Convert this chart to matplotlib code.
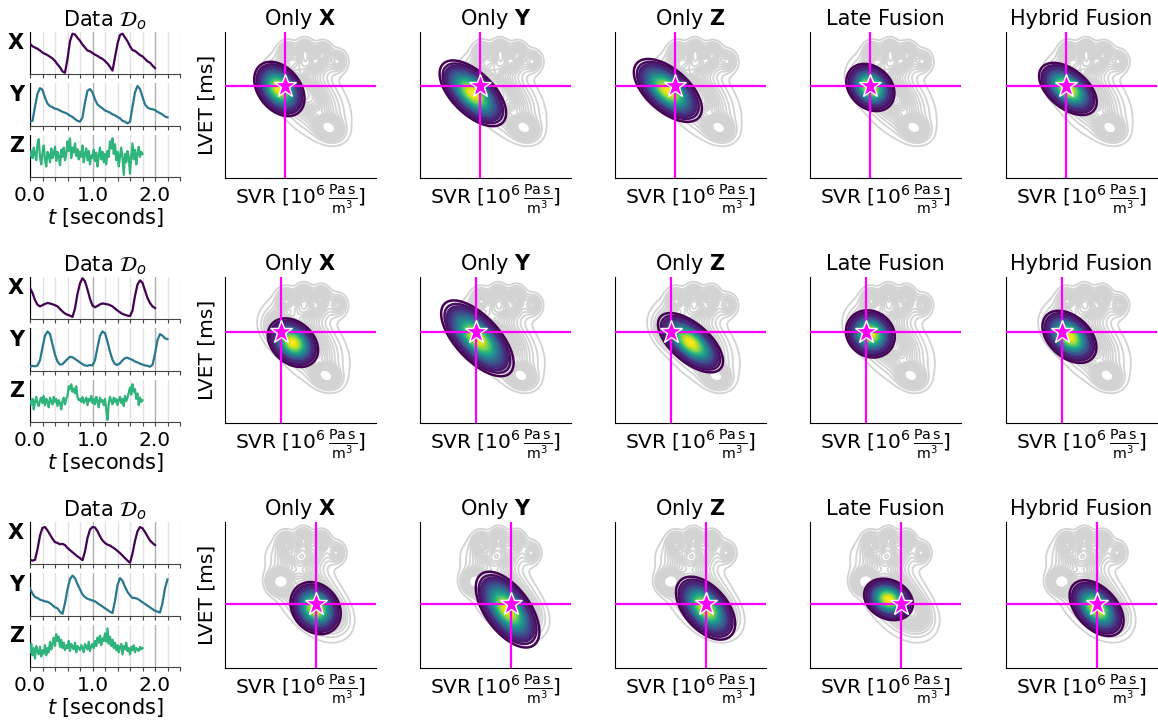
import numpy as np
import matplotlib
matplotlib.use("Agg")
import matplotlib.pyplot as plt
from matplotlib.ticker import MultipleLocator, NullLocator, FormatStrFormatter

plt.rcParams['font.family'] = ['DejaVu Sans']
plt.rcParams['mathtext.fontset'] = 'dejavusans'

# ---------------------------------------------------------------- data
dt_xy = 0.04
dt_z = 0.02

x_sig = [
    [0.72, 0.66, 0.63, 0.60, 0.56, 0.51, 0.48, 0.45, 0.41, 0.37, 0.31, 0.23, 0.16, 0.06, 0.03,
     0.36, 0.78, 0.96, 0.94, 0.86, 0.79, 0.70, 0.63, 0.56, 0.54, 0.50, 0.46, 0.43, 0.39, 0.36,
     0.31, 0.25, 0.17, 0.08, 0.40, 0.72, 0.93, 0.96, 0.87, 0.78, 0.66, 0.57, 0.55, 0.50, 0.45,
     0.42, 0.36, 0.30, 0.27, 0.20, 0.14],
    [0.74, 0.62, 0.45, 0.34, 0.30, 0.33, 0.36, 0.38, 0.37, 0.35, 0.33, 0.30, 0.24, 0.18, 0.13,
     0.10, 0.08, 0.05, 0.25, 0.60, 0.85, 0.97, 0.90, 0.70, 0.48, 0.32, 0.28, 0.31, 0.35, 0.37,
     0.36, 0.35, 0.33, 0.30, 0.25, 0.20, 0.16, 0.12, 0.10, 0.08, 0.07, 0.20, 0.55, 0.82, 0.92,
     0.86, 0.68, 0.50, 0.38, 0.30, 0.26],
    [0.10, 0.08, 0.10, 0.35, 0.68, 0.86, 0.88, 0.80, 0.70, 0.60, 0.52, 0.50, 0.47, 0.48, 0.45,
     0.38, 0.33, 0.28, 0.23, 0.18, 0.14, 0.09, 0.30, 0.62, 0.82, 0.88, 0.87, 0.78, 0.66, 0.56,
     0.50, 0.46, 0.44, 0.40, 0.36, 0.31, 0.26, 0.20, 0.14, 0.08, 0.03, 0.25, 0.55, 0.78, 0.88,
     0.85, 0.76, 0.66, 0.56, 0.50, 0.45],
]

y_sig = [
    [0.10, 0.12, 0.45, 0.75, 0.88, 0.84, 0.66, 0.52, 0.46, 0.44, 0.40, 0.39, 0.36, 0.33, 0.31,
     0.28, 0.24, 0.21, 0.16, 0.12, 0.10, 0.20, 0.55, 0.82, 0.86, 0.78, 0.62, 0.50, 0.45, 0.41,
     0.36, 0.34, 0.31, 0.27, 0.25, 0.21, 0.18, 0.12, 0.10, 0.06, 0.10, 0.45, 0.78, 0.93, 0.86,
     0.68, 0.50, 0.43, 0.40, 0.39, 0.37, 0.33, 0.30, 0.27, 0.22, 0.20],
    [0.10, 0.12, 0.11, 0.13, 0.25, 0.55, 0.82, 0.92, 0.86, 0.62, 0.38, 0.22, 0.15, 0.16, 0.22,
     0.28, 0.33, 0.32, 0.28, 0.24, 0.20, 0.16, 0.13, 0.12, 0.14, 0.13, 0.25, 0.55, 0.82, 0.92,
     0.88, 0.68, 0.45, 0.26, 0.16, 0.14, 0.18, 0.25, 0.30, 0.31, 0.28, 0.26, 0.22, 0.20, 0.17,
     0.15, 0.13, 0.12, 0.10, 0.14, 0.40, 0.72, 0.86, 0.82, 0.76, 0.74],
    [0.64, 0.52, 0.44, 0.42, 0.38, 0.36, 0.34, 0.33, 0.30, 0.25, 0.20, 0.18, 0.10, 0.05, 0.30,
     0.62, 0.86, 0.94, 0.88, 0.74, 0.62, 0.50, 0.44, 0.40, 0.38, 0.36, 0.34, 0.30, 0.26, 0.22,
     0.18, 0.14, 0.10, 0.07, 0.35, 0.72, 0.88, 0.82, 0.68, 0.56, 0.48, 0.42, 0.42, 0.40, 0.36,
     0.32, 0.28, 0.24, 0.20, 0.16, 0.12, 0.10, 0.08, 0.30, 0.65, 0.85],
]

z_sig = [
    [0.50, 0.62, 0.45, 0.70, 0.55, 0.40, 0.78, 0.90, 0.48, 0.30,
     0.58, 0.75, 0.42, 0.25, 0.60, 0.52, 0.35, 0.68, 0.45, 0.55,
     0.72, 0.38, 0.60, 0.50, 0.28, 0.65, 0.48, 0.70, 0.40, 0.55,
     0.85, 0.62, 0.92, 0.45, 0.70, 0.58, 0.80, 0.50, 0.66, 0.42,
     0.60, 0.48, 0.75, 0.35, 0.55, 0.68, 0.40, 0.62, 0.30, 0.52,
     0.45, 0.65, 0.38, 0.58, 0.25, 0.50, 0.70, 0.42, 0.60, 0.35,
     0.55, 0.30, 0.62, 0.48, 0.85, 0.68, 0.92, 0.55, 0.78, 0.40,
     0.60, 0.25, 0.50, 0.70, 0.45, 0.05, 0.55, 0.35, 0.62, 0.48,
     0.08, 0.50, 0.80, 0.42, 0.65, 0.30, 0.55, 0.72, 0.48, 0.60,
     0.55],
    [0.50, 0.42, 0.55, 0.30, 0.48, 0.60, 0.45, 0.38, 0.52, 0.58,
     0.45, 0.62, 0.40, 0.55, 0.48, 0.35, 0.58, 0.50, 0.42, 0.60,
     0.48, 0.55, 0.38, 0.52, 0.45, 0.30, 0.50, 0.58, 0.42, 0.55,
     0.62, 0.85, 0.78, 0.90, 0.72, 0.80, 0.68, 0.85, 0.60, 0.52,
     0.55, 0.48, 0.60, 0.45, 0.52, 0.58, 0.40, 0.55, 0.50, 0.62,
     0.45, 0.55, 0.42, 0.60, 0.50, 0.35, 0.58, 0.48, 0.52, 0.40,
     0.55, 0.30, 0.05, 0.45, 0.60, 0.50, 0.42, 0.58, 0.48, 0.55,
     0.40, 0.52, 0.60, 0.45, 0.55, 0.38, 0.62, 0.50, 0.58, 0.70,
     0.82, 0.65, 0.90, 0.72, 0.78, 0.55, 0.68, 0.40, 0.58, 0.48,
     0.52],
    [0.35, 0.55, 0.28, 0.45, 0.20, 0.50, 0.38, 0.30, 0.48, 0.25,
     0.40, 0.32, 0.52, 0.28, 0.45, 0.35, 0.60, 0.42, 0.55, 0.70,
     0.50, 0.78, 0.62, 0.72, 0.48, 0.65, 0.45, 0.58, 0.40, 0.52,
     0.45, 0.62, 0.38, 0.55, 0.48, 0.42, 0.58, 0.35, 0.50, 0.45,
     0.40, 0.52, 0.45, 0.35, 0.55, 0.48, 0.42, 0.60, 0.38, 0.50,
     0.55, 0.45, 0.62, 0.50, 0.70, 0.58, 0.75, 0.52, 0.68, 0.62,
     0.80, 0.60, 0.92, 0.55, 0.72, 0.50, 0.65, 0.45, 0.58, 0.40,
     0.52, 0.35, 0.48, 0.55, 0.30, 0.50, 0.42, 0.58, 0.38, 0.45,
     0.30, 0.48, 0.40, 0.52, 0.35, 0.45, 0.42, 0.38, 0.48, 0.42,
     0.45],
]

methods = ["Only $\\mathbf{X}$", "Only $\\mathbf{Y}$", "Only $\\mathbf{Z}$",
           "Late Fusion", "Hybrid Fusion"]

# true parameter values (normalised SVR, LVET), one per row
true_svr = [0.40, 0.37, 0.60]
true_lvet = [0.63, 0.62, 0.44]

# population density: mixture components (svr, lvet, sd_svr, sd_lvet, corr, weight)
prior_row1 = [(0.56, 0.55, 0.135, 0.150, -0.45, 0.50),
              (0.40, 0.64, 0.075, 0.075, -0.30, 0.14),
              (0.69, 0.34, 0.050, 0.045, -0.20, 0.09),
              (0.56, 0.79, 0.110, 0.060, 0.00, 0.13),
              (0.41, 0.86, 0.035, 0.045, 0.00, 0.03),
              (0.53, 0.88, 0.035, 0.045, 0.00, 0.03),
              (0.65, 0.86, 0.035, 0.045, 0.00, 0.03),
              (0.75, 0.80, 0.035, 0.045, 0.00, 0.025)]
prior_row2 = [(0.55, 0.55, 0.135, 0.150, -0.45, 0.50),
              (0.38, 0.63, 0.075, 0.075, -0.30, 0.14),
              (0.67, 0.32, 0.050, 0.045, -0.20, 0.09),
              (0.55, 0.79, 0.110, 0.060, 0.00, 0.13),
              (0.40, 0.85, 0.035, 0.045, 0.00, 0.03),
              (0.52, 0.88, 0.035, 0.045, 0.00, 0.03),
              (0.64, 0.87, 0.035, 0.045, 0.00, 0.03),
              (0.75, 0.81, 0.035, 0.045, 0.00, 0.025)]
prior_row3 = [(0.55, 0.52, 0.130, 0.160, -0.50, 0.50),
              (0.36, 0.59, 0.045, 0.045, 0.00, 0.08),
              (0.68, 0.38, 0.080, 0.080, -0.30, 0.12),
              (0.53, 0.78, 0.110, 0.065, 0.00, 0.13),
              (0.40, 0.86, 0.035, 0.045, 0.00, 0.03),
              (0.52, 0.89, 0.035, 0.045, 0.00, 0.03),
              (0.64, 0.87, 0.035, 0.045, 0.00, 0.03),
              (0.74, 0.79, 0.035, 0.045, 0.00, 0.025)]
priors = [prior_row1, prior_row2, prior_row3]

# posterior summaries per row and method
post_svr = [[0.36, 0.35, 0.35, 0.40, 0.41],
            [0.45, 0.38, 0.50, 0.40, 0.42],
            [0.60, 0.58, 0.60, 0.52, 0.60]]
post_lvet = [[0.61, 0.58, 0.60, 0.62, 0.61],
             [0.55, 0.58, 0.55, 0.61, 0.59],
             [0.41, 0.40, 0.41, 0.47, 0.41]]
post_sd_svr = [[0.068, 0.090, 0.092, 0.065, 0.078],
               [0.068, 0.098, 0.088, 0.066, 0.073],
               [0.068, 0.086, 0.080, 0.066, 0.073]]
post_sd_lvet = [[0.076, 0.092, 0.088, 0.066, 0.073],
                [0.068, 0.106, 0.083, 0.066, 0.073],
                [0.073, 0.106, 0.088, 0.058, 0.078]]
post_corr = [[-0.35, -0.60, -0.58, -0.25, -0.50],
             [-0.30, -0.65, -0.62, -0.12, -0.40],
             [-0.20, -0.58, -0.50, -0.22, -0.45]]

# ---------------------------------------------------------------- helpers
W, H = 1158, 725
fig = plt.figure(figsize=(W / 100, H / 100), dpi=100)


def px_axes(left, top, width, height):
    return fig.add_axes([left / W, (H - top - height) / H, width / W, height / H])


def mixture(gx, gy, comps):
    z = np.zeros_like(gx)
    for mx, my, sx, sy, r, w in comps:
        dx = (gx - mx) / sx
        dy = (gy - my) / sy
        q = (dx * dx - 2 * r * dx * dy + dy * dy) / (1 - r * r)
        z += w * np.exp(-0.5 * q) / (2 * np.pi * sx * sy * np.sqrt(1 - r * r))
    return z


def mass_levels(z, fracs):
    zs = np.sort(z.ravel())
    cum = np.cumsum(zs)
    cum /= cum[-1]
    return np.interp(fracs, cum, zs)


g = np.linspace(0, 1, 260)
GX, GY = np.meshgrid(g, g)
viridis = plt.get_cmap('viridis')
sig_colors = [viridis(0.0), viridis(0.40), viridis(0.65)]

row_tops = [32, 277, 522]
kde_lefts = [225, 420, 615, 810, 1006]
KW, KH = 151, 146

for r in range(3):
    top = row_tops[r]
    # ---- measured signals
    sub_tops = [top, top + 51, top + 103]
    sub_h = [42, 43, 42]
    sigs = [x_sig[r], y_sig[r], z_sig[r]]
    steps = [dt_xy, dt_xy, dt_z]
    for k in range(3):
        ax = px_axes(30, sub_tops[k], 150, sub_h[k])
        vals = np.asarray(sigs[k])
        t = np.arange(len(vals)) * steps[k]
        ax.plot(t, vals, color=sig_colors[k], lw=1.6, zorder=3)
        ax.set_xlim(0, 2.4)
        ax.set_ylim(0, 1.0)
        ax.xaxis.set_major_locator(MultipleLocator(1.0))
        ax.xaxis.set_minor_locator(MultipleLocator(0.2))
        ax.yaxis.set_major_locator(NullLocator())
        ax.grid(True, which='major', axis='x', color='#b0b0b0', lw=1.0, zorder=0)
        ax.grid(True, which='minor', axis='x', color='#e2e2e2', lw=1.0, zorder=0)
        ax.tick_params(axis='x', which='both', length=3, width=0.8, color='#444444')
        ax.tick_params(axis='x', which='major', labelsize=14.5)
        for s in ('top', 'right'):
            ax.spines[s].set_visible(False)
        ax.spines['bottom'].set_color('#444444')
        ax.spines['left'].set_color('black')
        ax.text(-0.04, 0.73, 'XYZ'[k], transform=ax.transAxes, ha='right',
                va='center', fontsize=15, fontweight='bold')
        if k == 0:
            ax.set_title("Data $\\mathcal{D}_o$", fontsize=15, pad=4)
        if k < 2:
            ax.tick_params(axis='x', labelbottom=False)
        else:
            ax.xaxis.set_major_formatter(FormatStrFormatter('%.1f'))
            ax.set_xlabel("$t$ [seconds]", fontsize=15, labelpad=1)

    # ---- population density (shared by every method of the row)
    zp = mixture(GX, GY, priors[r])
    lv_p = mass_levels(zp, np.linspace(0.05, 0.94, 20))

    for m in range(5):
        ax = px_axes(kde_lefts[m], top, KW, KH)
        ax.contour(GX, GY, zp, levels=lv_p, colors='#d3d3d3', linewidths=1.3, zorder=1)

        comp = [(post_svr[r][m], post_lvet[r][m], post_sd_svr[r][m],
                 post_sd_lvet[r][m], post_corr[r][m], 1.0)]
        zq = mixture(GX, GY, comp)
        lv_q = mass_levels(zq, np.linspace(0.05, 0.995, 28))
        fill_lv = list(lv_q[2:]) + [zq.max() * 1.01]
        ax.contourf(GX, GY, zq, levels=fill_lv, cmap='viridis',
                    vmin=lv_q[0], vmax=zq.max(), zorder=2)
        ax.contour(GX, GY, zq, levels=lv_q[:4], cmap='viridis',
                   vmin=lv_q[0], vmax=zq.max(), linewidths=1.8, zorder=3)

        ax.axvline(true_svr[r], color='#ff00ff', lw=1.6, zorder=4)
        ax.axhline(true_lvet[r], color='#ff00ff', lw=1.6, zorder=4)
        ax.plot([true_svr[r]], [true_lvet[r]], marker='*', ms=17, color='#ff00ff',
                mec='white', mew=1.0, zorder=5)

        ax.set_xlim(0, 1)
        ax.set_ylim(0, 1)
        ax.set_xticks([])
        ax.set_yticks([])
        for s in ('top', 'right'):
            ax.spines[s].set_visible(False)
        ax.set_title(methods[m], fontsize=15, pad=5)
        ax.set_xlabel("SVR [$10^6\\,\\frac{\\mathrm{Pa\\,s}}{\\mathrm{m}^3}$]",
                      fontsize=14.5, labelpad=4)
        if m == 0:
            ax.set_ylabel("LVET [ms]", fontsize=14.5, labelpad=6)

fig.savefig("out.png", dpi=100)
